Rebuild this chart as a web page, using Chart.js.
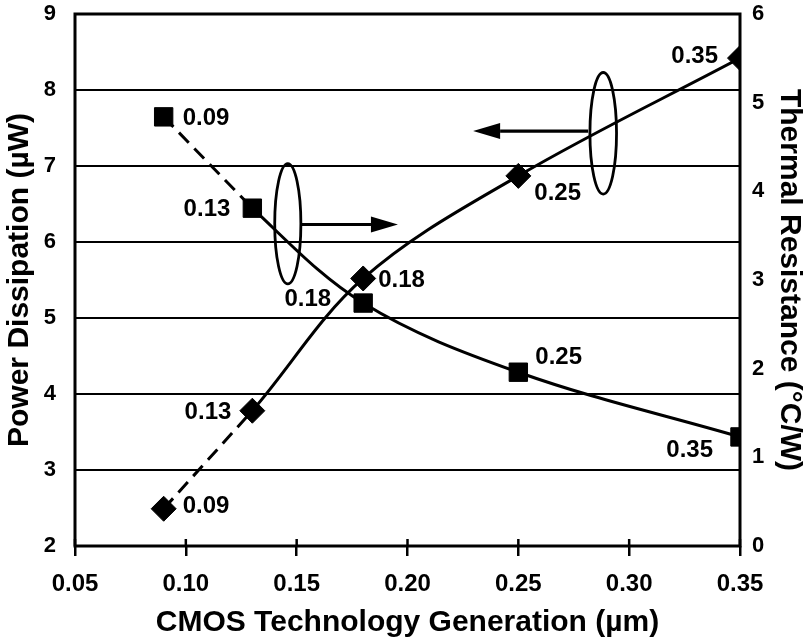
<!DOCTYPE html>
<html>
<head>
<meta charset="utf-8">
<script src="https://cdn.jsdelivr.net/npm/chart.js@4.4.1/dist/chart.umd.min.js"></script>
<style>
  html, body { margin: 0; padding: 0; background: #fff; }
  #wrap { width: 804px; height: 642px; }
</style>
</head>
<body>
<div id="wrap"><canvas id="chart"></canvas></div>
<script>
// technology generation (µm)
const nodes = [0.09, 0.13, 0.18, 0.25, 0.35];
// power dissipation (µW) - left axis, diamonds
const powerUW = [2.49, 3.78, 5.52, 6.87, 8.42];
// thermal resistance (°C/W) - right axis, squares
const thermalRes = [4.84, 3.81, 2.74, 1.96, 1.23];

const xTicks = [0.05, 0.10, 0.15, 0.20, 0.25, 0.30, 0.35];
const powerTicks = [2, 3, 4, 5, 6, 7, 8, 9];
const thermalTicks = [0, 1, 2, 3, 4, 5, 6];

// where each point label sits relative to its marker: [dx, dy, align]
const powerLabelPos = [[19, -2, 'left'], [-21, 2, 'right'], [15, 2, 'left'], [16, 17, 'left'], [-22, -2, 'right']];
const thermalLabelPos = [[19, 2, 'left'], [-22, 1, 'right'], [-32, -4, 'right'], [17, -15, 'left'], [-27, 13, 'right']];

// ellipse around a curve + arrow pointing at the axis it belongs to (data units, left axis)
const brackets = [
  { cx: 0.146, cy: 6.24, rx: 0.0059, ry: 0.79, from: 0.1515, to: 0.1957, ay: 6.23 },
  { cx: 0.2883, cy: 7.43, rx: 0.006, ry: 0.80, from: 0.2815, to: 0.2296, ay: 7.46 },
];

const pts = (ys) => nodes.map((x, i) => ({ x, y: ys[i] }));
const fixTicks = (vals) => (scale) => { scale.ticks = vals.map(v => ({ value: v })); };

Chart.defaults.font.family = 'Liberation Sans, Arial, Helvetica, sans-serif';
Chart.defaults.font.weight = 'bold';
Chart.defaults.color = '#000';

const annotate = {
  id: 'annotate',
  beforeDatasetsDraw(chart) {
    const { ctx, chartArea: a, scales } = chart;
    ctx.save();
    ctx.strokeStyle = '#000';
    ctx.lineWidth = 3;
    ctx.strokeRect(a.left, a.top, a.right - a.left, a.bottom - a.top);
    // short tick marks reaching into the plot
    ctx.lineWidth = 2.5;
    scales.x.ticks.forEach((t, i) => {
      const px = scales.x.getPixelForTick(i);
      ctx.beginPath();
      ctx.moveTo(px, a.bottom);
      ctx.lineTo(px, a.bottom - 7);
      ctx.stroke();
    });
    ctx.restore();
  },
  afterDatasetsDraw(chart) {
    const { ctx, scales } = chart;
    const x = scales.x, y = scales.y;
    ctx.save();
    ctx.fillStyle = '#000';
    ctx.strokeStyle = '#000';
    ctx.font = 'bold 24px Liberation Sans, Arial, sans-serif';
    ctx.textBaseline = 'middle';
    const labelSet = (dsIndex, pos) => {
      chart.getDatasetMeta(dsIndex).data.forEach((el, i) => {
        const [dx, dy, align] = pos[i];
        ctx.textAlign = align;
        ctx.fillText(nodes[i].toFixed(2), el.x + dx, el.y + dy);
      });
    };
    labelSet(0, powerLabelPos);
    labelSet(2, thermalLabelPos);

    brackets.forEach(b => {
      const cx = x.getPixelForValue(b.cx), cy = y.getPixelForValue(b.cy);
      const rx = Math.abs(x.getPixelForValue(b.cx + b.rx) - cx);
      const ry = Math.abs(y.getPixelForValue(b.cy + b.ry) - cy);
      ctx.lineWidth = 2.8;
      ctx.beginPath();
      ctx.ellipse(cx, cy, rx, ry, 0, 0, Math.PI * 2);
      ctx.stroke();

      const x0 = x.getPixelForValue(b.from), x1 = x.getPixelForValue(b.to);
      const ay = y.getPixelForValue(b.ay);
      const dir = Math.sign(x1 - x0);
      const head = 27, half = 8;
      ctx.lineWidth = 3.2;
      ctx.beginPath();
      ctx.moveTo(x0, ay);
      ctx.lineTo(x1 - dir * head, ay);
      ctx.stroke();
      ctx.beginPath();
      ctx.moveTo(x1, ay);
      ctx.lineTo(x1 - dir * head, ay - half);
      ctx.lineTo(x1 - dir * head, ay + half);
      ctx.closePath();
      ctx.fill();
    });
    ctx.restore();
  }
};

const hideFirst = { borderColor: ctx => ctx.p0DataIndex === 0 ? 'rgba(0,0,0,0)' : undefined };

new Chart(document.getElementById('chart'), {
  type: 'line',
  data: {
    datasets: [
      {
        label: 'Power Dissipation',
        data: pts(powerUW),
        yAxisID: 'y',
        borderColor: '#000',
        backgroundColor: '#000',
        borderWidth: 3,
        tension: 0.35,
        pointStyle: 'rectRot',
        pointRadius: 12.5,
        pointBorderWidth: 1,
        segment: hideFirst
      },
      {
        label: 'Power Dissipation (extrapolated)',
        data: pts(powerUW).slice(0, 2),
        yAxisID: 'y',
        borderColor: '#000',
        borderWidth: 3,
        borderDash: [14, 8],
        pointRadius: 0
      },
      {
        label: 'Thermal Resistance',
        data: pts(thermalRes),
        yAxisID: 'y2',
        borderColor: '#000',
        backgroundColor: '#000',
        borderWidth: 3,
        tension: 0.35,
        pointStyle: 'rect',
        pointRadius: 13,
        pointBorderWidth: 1,
        segment: hideFirst
      },
      {
        label: 'Thermal Resistance (extrapolated)',
        data: pts(thermalRes).slice(0, 2),
        yAxisID: 'y2',
        borderColor: '#000',
        borderWidth: 3,
        borderDash: [14, 8],
        pointRadius: 0
      }
    ]
  },
  options: {
    responsive: true,
    maintainAspectRatio: false,
    animation: false,
    events: [],
    layout: { padding: { top: 0, left: 0, right: 0, bottom: 0 } },
    plugins: { legend: { display: false }, tooltip: { enabled: false } },
    scales: {
      x: {
        type: 'linear',
        min: xTicks[0],
        max: xTicks[xTicks.length - 1],
        afterBuildTicks: fixTicks(xTicks),
        afterFit: s => { s.height = 96; },
        border: { display: false },
        grid: { drawOnChartArea: false, tickLength: 10, color: '#000', lineWidth: 2.5 },
        ticks: { callback: v => v.toFixed(2), font: { size: 24 }, padding: 14, maxRotation: 0, autoSkip: false },
        title: {
          display: true,
          text: 'CMOS Technology Generation (µm)',
          font: { size: 30, lineHeight: 1 },
          padding: { top: 0, bottom: 4 }
        }
      },
      y: {
        position: 'left',
        min: powerTicks[0],
        max: powerTicks[powerTicks.length - 1],
        afterBuildTicks: fixTicks(powerTicks),
        afterFit: s => { s.width = 75; },
        border: { display: false },
        // invisible tick marks keep the labels off the axis without padding the top
        grid: { color: '#000', lineWidth: 2, tickColor: 'rgba(0,0,0,0)', tickLength: 19 },
        ticks: { font: { size: 22 }, padding: 0 },
        title: {
          display: true,
          text: 'Power Dissipation (µW)',
          font: { size: 30, lineHeight: 1 },
          padding: { top: 5, bottom: 0 }
        }
      },
      y2: {
        position: 'right',
        min: thermalTicks[0],
        max: thermalTicks[thermalTicks.length - 1],
        afterBuildTicks: fixTicks(thermalTicks),
        afterFit: s => { s.width = 64; },
        border: { display: false },
        grid: { drawOnChartArea: false, tickColor: 'rgba(0,0,0,0)', tickLength: 12 },
        ticks: { font: { size: 22 }, padding: 0 },
        title: {
          display: true,
          text: 'Thermal Resistance (°C/W)',
          font: { size: 30, lineHeight: 1 },
          padding: { top: 0, bottom: 0 }
        }
      }
    }
  },
  plugins: [annotate]
});
</script>
</body>
</html>
